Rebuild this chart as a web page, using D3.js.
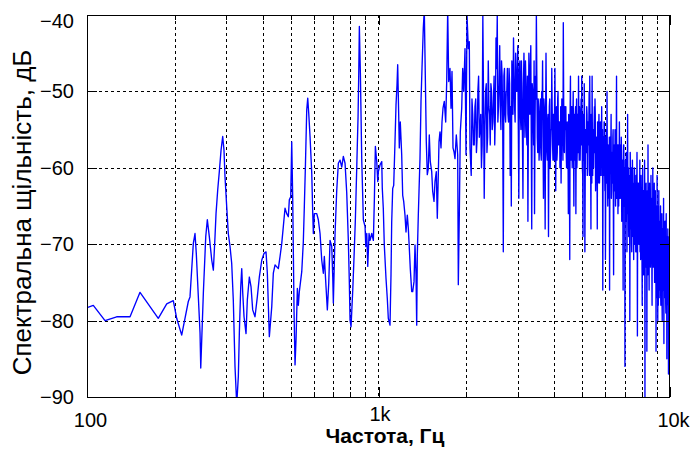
<!DOCTYPE html>
<html><head><meta charset="utf-8">
<script src="https://cdn.jsdelivr.net/npm/d3@7"></script>
<style>html,body{margin:0;padding:0;background:#fff;}svg{display:block;}</style>
</head><body>
<script>
// ---- data ----
const yTickValues = [-90, -80, -70, -60, -50, -40];
const xMajorValues = [100, 1000, 10000];
const xMajorLabels = ["100", "1k", "10k"];
const xMinorValues = [200, 300, 400, 500, 600, 700, 800, 900, 2000, 3000, 4000, 5000, 6000, 7000, 8000, 9000];

// traced low/mid frequency part (Hz, dB)
const freqLow = [100,105.1,115.3,126.4,140.5,152.0,175.6,187.7,197.7,203.1,
211.3,222.6,225.6,231.6,234.7,237.1,244.2,245.6,250.7,255.5,
258.7,262.8,267.9,271.3,274.9,277.1,280.8,284.4,288.3,292.1,
295.1,297.5,301.5,305.3,309.5,313.6,317.6,321.9,326.3,330.5,
333.1,336.8,339.5,342.2,345.7,351.2,354.8,360.5,365.4,370.2,
377.0,384.0,390.1,397.6,404.8,411.3,415.6,422.2,430.3,435.7,
441.7,453.3,459.5,465.7,471.5,477.9,484.3,490.5,494.4,499.9,
503.9,507.9,513.1,517.2,521.3,526.8,530.9,535.1,545.4,552.2,
556.6,561.1,567.3,571.8,576.4,582.3,590.2,594.9,597.7,602.4,
614.0,621.7,630.2,638.7,646.8,651.9,660.7,667.6,675.0,682.0,
691.2,696.7,700.0,709.5,719.1,728.2,738.1,748.0,757.5,767.8,
778.1,788.0,794.3,798.7,805.0,816.0,824.4,833.0,842.2,850.9,
855.6,859.7,866.6,876.1,887.2,899.3,904.3,911.4,918.6,928.1,
935.5,948.1,960.2,967.8,975.6,986.3,994.1,998.9,1012.4,1026.1,
1030.5,1038.6,1046.9,1061.1,1072.0,1080.6,1095.1,1103.8,1109.9,1118.7,
1127.6,1139.2,1148.3,1157.3,1163.7,1173.0,1178.5,1187.8,1201.1,1210.6,
1220.2,1232.8,1242.7,1255.5,1265.5,1275.4,1285.5,1299.9,1310.1,1323.8,
1334.2,1344.9,1352.3,1358.7,1369.5,1377.1,1387.9,1399.0,1410.0,1424.7,
1435.8,1447.2,1458.8,1470.3,1482.0,1493.7,1505.5,1522.3,1534.3,1550.3,
1562.5,1578.7,1591.2,1603.9,1612.7,1625.4,1638.4,1651.3,1664.5,1681.6,
1700.3,1713.9,1727.4,1741.2,1759.1,1773.2,1787.1,1801.3,1815.7,1830.0,
1849.0,1869.4,1878.5,1893.2,1908.2,1929.5,1944.7,1960.3,1980.5,1996.3,
2012.0,2033.0,2048.8,2060.2];
const dbLow = [-78.3,-78.0,-80.0,-79.5,-79.5,-76.3,-79.7,-77.8,-77.4,-79.7,
-81.9,-77.5,-76.9,-69.9,-68.6,-71.2,-81.6,-86.2,-76.4,-69.0,
-66.8,-69.0,-72.1,-73.4,-69.0,-66.0,-62.9,-60.5,-57.7,-55.9,
-57.7,-61.2,-65.1,-68.6,-70.3,-72.5,-77.3,-86.0,-91,-87.3,
-81.7,-75.6,-73.2,-76.4,-79.5,-81.7,-77.3,-74.3,-75.6,-78.6,
-79.5,-76.9,-74.3,-72.1,-71.2,-71.0,-73.8,-82.1,-78.2,-73.8,
-72.7,-73.2,-71.6,-69.9,-67.7,-65.3,-66.0,-66.4,-64.2,-63.8,
-56.6,-64.2,-78.6,-85.8,-82.5,-75.8,-78.0,-76.2,-73.6,-69.7,
-65.1,-60.1,-52.4,-50.9,-52.9,-55.9,-60.7,-66.0,-68.6,-66.0,
-66.0,-66.8,-68.6,-72.1,-73.8,-71.6,-75.6,-78.6,-75.1,-69.5,
-70.3,-74.3,-77.7,-68.6,-62.9,-59.4,-59.0,-59.9,-58.5,-59.4,
-63.3,-69.5,-75.1,-79.9,-80.8,-76.0,-71.6,-66.8,-59.9,-53.3,
-47.6,-41.5,-47.6,-59.0,-66.8,-67.7,-70.3,-68.6,-72.9,-68.6,
-69.5,-68.6,-69.5,-64.2,-57.2,-59.2,-61.8,-60.5,-59.6,-59.2,
-62.7,-65.3,-70.1,-74.5,-77.1,-79.7,-80.6,-74.0,-67.1,-62.7,
-62.3,-56.6,-51.8,-49.2,-46.5,-53.1,-57.4,-54.0,-58.3,-63.6,
-64.4,-66.2,-68.4,-66.2,-67.9,-70.5,-73.2,-76.2,-76.2,-74.9,
-70.1,-74.0,-80.6,-71.4,-66.2,-63.1,-58.8,-51.3,-47.0,-41.7,
-39.3,-47.9,-56.6,-60.9,-60.1,-55.7,-59.2,-60.5,-63.1,-64.4,
-61.8,-60.5,-66.6,-60.9,-56.6,-55.3,-57.4,-54.0,-52.2,-51.3,
-54.0,-48.7,-39.3,-48.7,-47.0,-52.2,-47.4,-57.4,-57.9,-58.8,
-55.7,-58.3,-75.3,-66.2,-55.3,-52.2,-47.0,-50.0,-44.4,-58.3,
-40,-44.4,-43.5,-57.4];

// dense high-frequency part on a uniform grid: peaks/dips per bin (dbDense)
// and the in-between bins forming the solid core of the band (dbCore)
const denseStartHz = 2080;
const denseStepHz = 25;
const dbDense = [
-61,-53,-57,-51,-56,-48,-55,-60,-40,-64,
-50,-58,-46,-53,-49,-55,-51,-57,-43,-40,
-52,-44,-55,-48,-71,-47,-54,-50,
-53,-47,-61,-65,-49,
-43,-52,-45,-50,-44,-64,
-46,-55,-50,-64,-45,-56,
-49,-57,-67,-45,-53,-44,-68,
-50,-57,-66,-48,-40,
-56,-51,-59,-53,-58,-50,-46,-64,-52,-68,
-45,-58,-54,-69,-52,-60,-55,-47,
-57,-53,-59,-47,-63,-52,-58,-50,-56,-54,-59,-62,-51,-55,-41,-57,-52,
-53,-58,-55,-60,-66,-54,-72,-48,-59,
-52,-57,-50,-65,-55,-53,-66,-51,-58,-54,-48,-59,-53,
-56,-51,-48,-60,-69,-53,-49,-71,-55,-58,-52,-61,-54,-57,-50,-48,
-59,-68,-53,-48,-61,-55,-57,-52,-51,-63,-56,-58,-68,-54,-60,-53,-62,-57,-55,-61,-52,-59,-76,
-56,-61,-54,-63,-72,-58,-55,-50,-62,-57,-60,-64,-76,-56,-59,-53,-63,-58,-61,-55,
-74,-58,-62,-55,-65,-60,-48,-63,-57,-66,-59,-61,-54,-64,-58,-62,-56,-67,-60,-63,-76,-57,-65,-61,-86,-59,-64,-58,
-62,-67,-53,-65,-60,-69,-63,-80,-58,-66,-61,-70,-64,-59,-68,-62,-72,-65,-60,-67,-63,-71,-61,-66,-58,-82,-69,-64,-62,-70,-65,-59,
-66,-72,-61,-68,-64,-78,-60,-70,-66,-63,-74,-59,-92,-67,-71,-62,-69,-84,-65,-73,-57,-68,-64,-76,-62,-70,
-66,-72,-61,-69,-64,-78,-67,-60,-73,-65,-70,-62,-75,-68,-63,-71,-84,-66,-74,-61,-69,-80,-65,-72,-63,-77,-68,-70,
-73,-65,-78,-69,-75,-66,-80,-71,-68,-76,-64,-83,-72,-70,-77,-67,-74,-79,-66,-73,-85,-70,-75,-68,-78,-87,-71,-76,-80,-74,-82
];
const dbCore = [
-51,-57,-52,-58,-50,-56,-53,-57,-51,-55,-49,-56,-52,-57,-50,-54,-48,
-53,-47,-54,-49,-52,-46,-54,-48,-53,-50,-47,-54,-49,-52,-46,-53,-48,-54,-50,-47,
-55,-47,-53,-46,-56,-49,-52,-46,-55,-48,-54,-50,-47,-56,-49,-53,-46,-55,-51,-48,
-58,-52,-57,-51,-59,-53,-56,-51,-58,-54,-52,-59,-53,-57,-51,-58,-55,-52,-59,-53,
-52,-58,-53,-59,-51,-57,-54,-60,-52,-56,-53,-59,-51,-58,-55,-52,-60,-54,-57,-53,
-59,-53,-58,-52,-60,-54,-57,-53,-59,-52,-56,-60,-53,-58,-54,-52,-59,-55,-57,-53,
-61,-53,-59,-54,-62,-55,-58,-53,-60,-56,-54,-61,-55,-59,-53,-62,-57,-55,-60,-54,
-58,-53,-61,-56,-59,-54,-62,-55,-57,-60,-54,-61,-56,-58,-55,-62,-57,-54,-60,-56,
-64,-56,-62,-57,-65,-58,-61,-56,-63,-59,-57,-64,-58,-62,-56,-65,-60,-57,-63,-59,
-61,-56,-64,-58,-62,-57,-65,-59,-60,-63,-57,-64,-58,-61,-59,-65,-60,-57,-63,-60,
-70,-60,-67,-61,-71,-62,-66,-60,-69,-63,-61,-70,-62,-68,-60,-71,-64,-61,-69,-63,
-66,-60,-70,-62,-68,-61,-71,-63,-65,-69,-62,-70,-64,-67,-63,-71,-65,-62,-69,-64,
-73,-63,-71,-64,-74,-65,-70,-63,-72,-66,-64,-73,-65,-71,-63,-74,-67,-64,-72,-66,
-70,-63,-73,-65,-71,-64,-74,-66,-68,-72,-65,-73,-67,-70,-66,-74,-68,-65,-72,-67,
-77,-67,-75,-68,-78,-69,-74,-67,-76,-70,-68,-77,-69,-75,-67,-78,-71,-68,-76,-70,
-74,-67,-77,-69,-75,-68,-78,-70,-72,-76,-69,-77,-71,-74,-70,-78,-72,-69,-76,-71,-74
];

const xAxisTitle = "Частота, Гц";
const yAxisTitle = "Спектральна щільність, дБ";

// ---- layout ----
const W = 692, H = 453;
const m = {left: 87, right: 670, top: 15, bottom: 397};
const FONT = "Liberation Sans, Arial, sans-serif";

const svg = d3.select("body").append("svg").attr("width", W).attr("height", H);

const x = d3.scaleLog().domain([100, 10000]).range([m.left, m.right]);
const y = d3.scaleLinear().domain([-90, -40]).range([m.bottom, m.top]);

const densePts = [];
dbDense.forEach((v, i) => {
  const f = denseStartHz + i * denseStepHz;
  densePts.push([f, v]);
  if (i < dbCore.length) densePts.push([f + denseStepHz / 2, dbCore[i]]);
});
const points = d3.zip(freqLow, dbLow).concat(densePts);

svg.append("defs").append("clipPath").attr("id", "clip")
  .append("rect").attr("x", m.left).attr("y", m.top)
  .attr("width", m.right - m.left).attr("height", m.bottom - m.top);

// grid
const grid = svg.append("g").attr("stroke", "#000").attr("stroke-width", 1)
  .attr("stroke-dasharray", "3,3").attr("shape-rendering", "crispEdges");
grid.selectAll("line.gx").data(xMinorValues.concat([1000])).enter().append("line")
  .attr("x1", d => Math.round(x(d)) + 0.5).attr("x2", d => Math.round(x(d)) + 0.5)
  .attr("y1", m.top).attr("y2", m.bottom);
grid.selectAll("line.gy").data(yTickValues.filter(v => v > -90 && v < -40)).enter().append("line")
  .attr("y1", d => Math.round(y(d)) + 0.5).attr("y2", d => Math.round(y(d)) + 0.5)
  .attr("x1", m.left).attr("x2", m.right);

// data line
svg.append("path").datum(points)
  .attr("clip-path", "url(#clip)")
  .attr("fill", "none").attr("stroke", "#0000ff").attr("stroke-width", 1.35)
  .attr("stroke-linejoin", "round")
  .attr("d", d3.line().x(d => x(d[0])).y(d => y(d[1])));

// axes via d3
const axB = svg.append("g").attr("transform", `translate(0,${m.bottom})`)
  .call(d3.axisBottom(x).tickValues(xMajorValues).tickFormat((d, i) => xMajorLabels[i]).tickSize(-10));
svg.append("g").attr("transform", `translate(0,${m.top})`)
  .call(d3.axisTop(x).tickValues(xMajorValues).tickFormat("").tickSize(-10));
const axL = svg.append("g").attr("transform", `translate(${m.left},0)`)
  .call(d3.axisLeft(y).tickValues(yTickValues).tickFormat(d3.format("d")).tickSize(-10).tickPadding(13));
svg.append("g").attr("transform", `translate(${m.right},0)`)
  .call(d3.axisRight(y).tickValues(yTickValues).tickFormat("").tickSize(-10));
svg.append("g").attr("transform", `translate(0,${m.bottom})`)
  .call(d3.axisBottom(x).tickValues(xMinorValues).tickFormat("").tickSize(-5));
svg.append("g").attr("transform", `translate(0,${m.top})`)
  .call(d3.axisTop(x).tickValues(xMinorValues).tickFormat("").tickSize(-5));

svg.selectAll(".domain").remove();
svg.selectAll(".tick line").attr("stroke", "#000").attr("shape-rendering", "crispEdges");
svg.selectAll(".tick text").attr("font-family", FONT).attr("font-size", 20).attr("fill", "#000");
axL.selectAll(".tick text").attr("dy", d => d === -40 ? "0.62em" : "0.32em");
axB.selectAll(".tick text")
  .attr("dx", d => d === 1000 ? 1 : 3)
  .attr("dy", 0)
  .attr("y", d => d === 1000 ? 24 : 30);

// frame
svg.append("rect").attr("x", m.left + 0.5).attr("y", m.top + 0.5)
  .attr("width", m.right - m.left - 1).attr("height", m.bottom - m.top)
  .attr("fill", "none").attr("stroke", "#000").attr("stroke-width", 1).attr("shape-rendering", "crispEdges");

// titles
svg.append("text").attr("x", 385).attr("y", 443).attr("text-anchor", "middle")
  .attr("font-family", FONT).attr("font-size", 21).attr("font-weight", "bold")
  .text(xAxisTitle);
svg.append("text").attr("transform", "translate(31,212.5) rotate(-90)").attr("text-anchor", "middle")
  .attr("font-family", FONT).attr("font-size", 26)
  .text(yAxisTitle);
</script>
</body></html>
